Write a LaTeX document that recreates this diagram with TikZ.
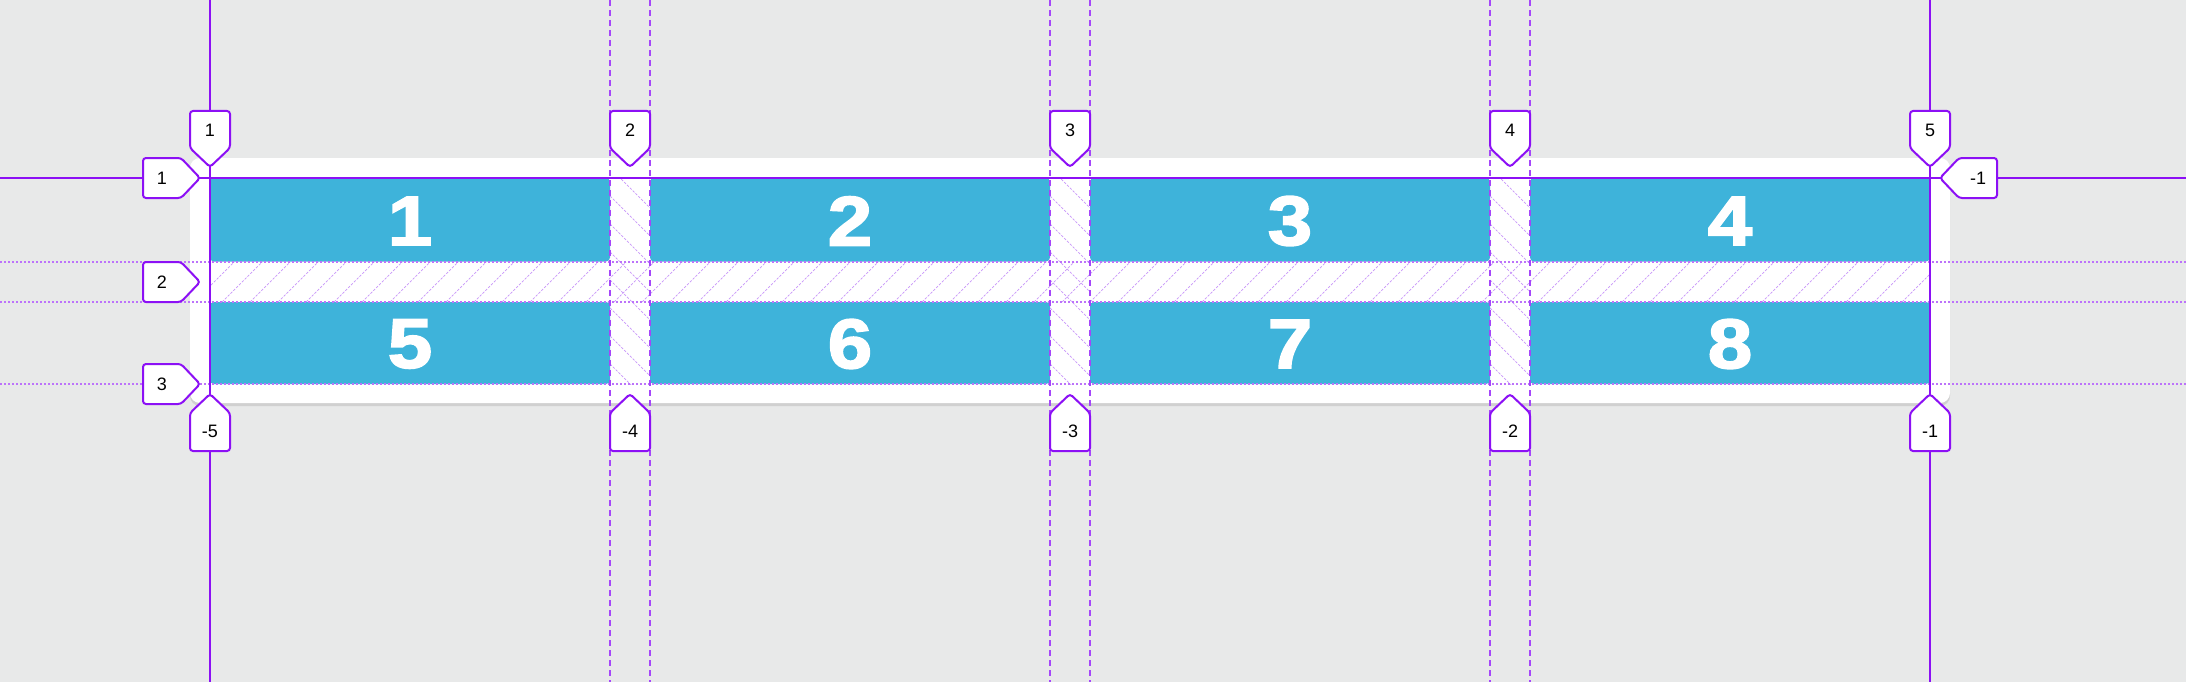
\documentclass[tikz,border=0pt]{standalone}
\usepackage{fontspec}
\setmainfont{Liberation Sans}
\newfontfamily\digitfont[FakeBold=2.5,FakeStretch=1.14]{Liberation Sans Bold}
\definecolor{bgc}{RGB}{232,233,233}
\definecolor{cellblue}{RGB}{62,179,218}
\definecolor{gpurple}{RGB}{140,16,245}
\definecolor{dashpurple}{RGB}{165,70,250}
\definecolor{dotpurple}{RGB}{188,115,250}
\definecolor{hatchpurple}{RGB}{200,150,250}
\definecolor{shadowc}{RGB}{208,208,208}
\tikzset{
  solidline/.style={draw=gpurple, line width=2pt},
  dashline/.style={draw=dashpurple, line width=2pt, dash pattern=on 6pt off 4pt},
  dotline/.style={draw=dotpurple, line width=1.6pt, dash pattern=on 2pt off 2pt},
  hatchline/.style={draw=hatchpurple, line width=0.7pt, dash pattern=on 2.5pt off 1.5pt},
  cellbox/.style={fill=cellblue, rounded corners=4pt},
  celltext/.style={text=white, font=\digitfont\fontsize{70}{70}\selectfont, inner sep=0pt},
  labshape/.style={draw=gpurple, fill=white, line width=2pt, rounded corners=3pt},
  labtext/.style={text=black, font=\fontsize{18}{18}\selectfont, inner sep=0pt}
}
\newcommand\labdown[3]{%
  \draw[labshape] (#1,167) -- (#1-20,148) -- (#1-20,111) -- (#1+20,111) -- (#1+20,148) -- cycle;
  \node[labtext] (#3) at (#1,130) {#2};}
\newcommand\labup[3]{%
  \draw[labshape] (#1,394) -- (#1-20,413) -- (#1-20,451) -- (#1+20,451) -- (#1+20,413) -- cycle;
  \node[labtext] (#3) at (#1,431) {#2};}
\newcommand\labright[3]{%
  \draw[labshape] (200,#1) -- (181,#1-20) -- (143,#1-20) -- (143,#1+20) -- (181,#1+20) -- cycle;
  \node[labtext] (#3) at (162,#1) {#2};}
\newcommand\lableft[3]{%
  \draw[labshape] (1940,#1) -- (1959,#1-20) -- (1997,#1-20) -- (1997,#1+20) -- (1959,#1+20) -- cycle;
  \node[labtext] (#3) at (1978,#1) {#2};}
\begin{document}
\begin{tikzpicture}[x=1pt,y=-1pt]
\useasboundingbox (0,0) rectangle (2186,682);
\fill[bgc] (0,0) rectangle (2186,682);
% container
\fill[shadowc, rounded corners=10pt] (190,161) rectangle (1950,406);
\fill[white, rounded corners=10pt] (190,158) rectangle (1950,403);
% cells
\foreach \cx/\n in {210/1,650/2,1090/3,1530/4}{
  \fill[cellbox] (\cx,178) rectangle (\cx+400,261.5);
  \node[celltext] (c\n) at (\cx+200,221) {\n};
}
\foreach \cx/\n in {210/5,650/6,1090/7,1530/8}{
  \fill[cellbox] (\cx,302) rectangle (\cx+400,384);
  \node[celltext] (c\n) at (\cx+200,344) {\n};
}
% hatching in row gap
\begin{scope}
  \clip (210,262) rectangle (1930,302);
  \foreach \a in {166,194,...,1940}{
    \draw[hatchline] (\a,302) -- (\a+40,262);
  }
\end{scope}
% hatching in column gaps
\foreach \gx in {610,1050,1490}{
  \begin{scope}
    \clip (\gx,178) rectangle (\gx+40,384);
    \foreach \b in {140,168,...,400}{
      \draw[hatchline] (\gx,\b) -- (\gx+40,\b+40);
    }
  \end{scope}
}
% grid lines
\foreach \y in {262,302,384}{
  \draw[dotline] (0,\y) -- (2186,\y);
}
\foreach \x in {610,650,1050,1090,1490,1530}{
  \draw[dashline] (\x,0) -- (\x,682);
}
\draw[solidline] (0,178) -- (2186,178);
\draw[solidline] (210,0) -- (210,682);
\draw[solidline] (1930,0) -- (1930,682);
% labels
\labdown{210}{1}{t1}
\labdown{630}{2}{t2}
\labdown{1070}{3}{t3}
\labdown{1510}{4}{t4}
\labdown{1930}{5}{t5}
\labup{210}{-5}{b5}
\labup{630}{-4}{b4}
\labup{1070}{-3}{b3}
\labup{1510}{-2}{b2}
\labup{1930}{-1}{b1}
\labright{178}{1}{l1}
\labright{282}{2}{l2}
\labright{384}{3}{l3}
\lableft{178}{-1}{r1}
\end{tikzpicture}
\end{document}
